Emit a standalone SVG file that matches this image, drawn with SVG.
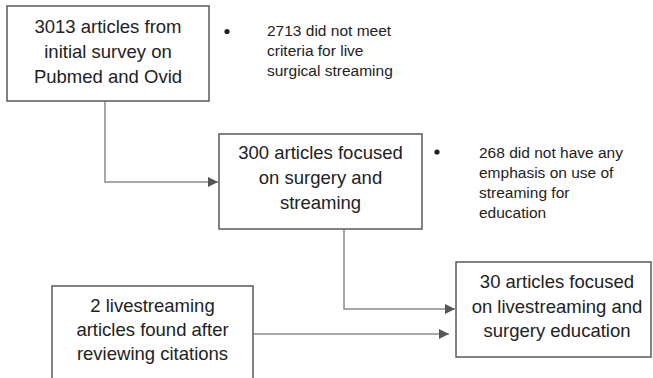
<svg xmlns="http://www.w3.org/2000/svg" width="653" height="378" viewBox="0 0 653 378">
<style>
.box{fill:#fff;stroke:#5a5a5a;stroke-width:1.5}
.t{font-family:"Liberation Sans",Arial,sans-serif;font-size:18.5px;fill:#222;text-anchor:middle}
.s{font-family:"Liberation Sans",Arial,sans-serif;font-size:15.5px;fill:#222}
.c{fill:none;stroke:#8a8a8a;stroke-width:1.5}
</style>
<defs>
<marker id="ah" viewBox="0 0 10 10" refX="10" refY="5" markerWidth="10" markerHeight="10" markerUnits="userSpaceOnUse" orient="auto">
<path d="M0,0 L10,5 L0,10 z" fill="#555"/>
</marker>
</defs>
<rect width="653" height="378" fill="#fff"/>
<g id="connectors">
<path class="c" d="M105,101 V182 H218" marker-end="url(#ah)"/>
<path class="c" d="M344,229 V309 H455" marker-end="url(#ah)"/>
<path class="c" d="M253,334 H449" marker-end="url(#ah)"/>
</g>
<g id="n1">
<rect class="box" x="7" y="6" width="202" height="95"/>
<text class="t" x="108" y="33">3013 articles from</text>
<text class="t" x="108" y="58">initial survey on</text>
<text class="t" x="108" y="83">Pubmed and Ovid</text>
</g>
<g id="note1">
<circle cx="227" cy="31.5" r="2.6" fill="#222"/>
<text class="s" x="267" y="36">2713 did not meet</text>
<text class="s" x="267" y="56">criteria for live</text>
<text class="s" x="267" y="76">surgical streaming</text>
</g>
<g id="n2">
<rect class="box" x="219" y="134" width="203" height="95"/>
<text class="t" x="320.5" y="159">300 articles focused</text>
<text class="t" x="320.5" y="184">on surgery and</text>
<text class="t" x="320.5" y="209">streaming</text>
</g>
<g id="note2">
<circle cx="437" cy="152" r="2.6" fill="#222"/>
<text class="s" x="479" y="158">268 did not have any</text>
<text class="s" x="479" y="178">emphasis on use of</text>
<text class="s" x="479" y="198">streaming for</text>
<text class="s" x="479" y="218">education</text>
</g>
<g id="n3">
<rect class="box" x="52" y="286" width="201" height="100"/>
<text class="t" x="152.5" y="312">2 livestreaming</text>
<text class="t" x="152.5" y="336">articles found after</text>
<text class="t" x="152.5" y="360">reviewing citations</text>
</g>
<g id="n4">
<rect class="box" x="456" y="262" width="195" height="95"/>
<text class="t" x="557" y="288">30 articles focused</text>
<text class="t" x="557" y="313">on livestreaming and</text>
<text class="t" x="557" y="337">surgery education</text>
</g>
</svg>
